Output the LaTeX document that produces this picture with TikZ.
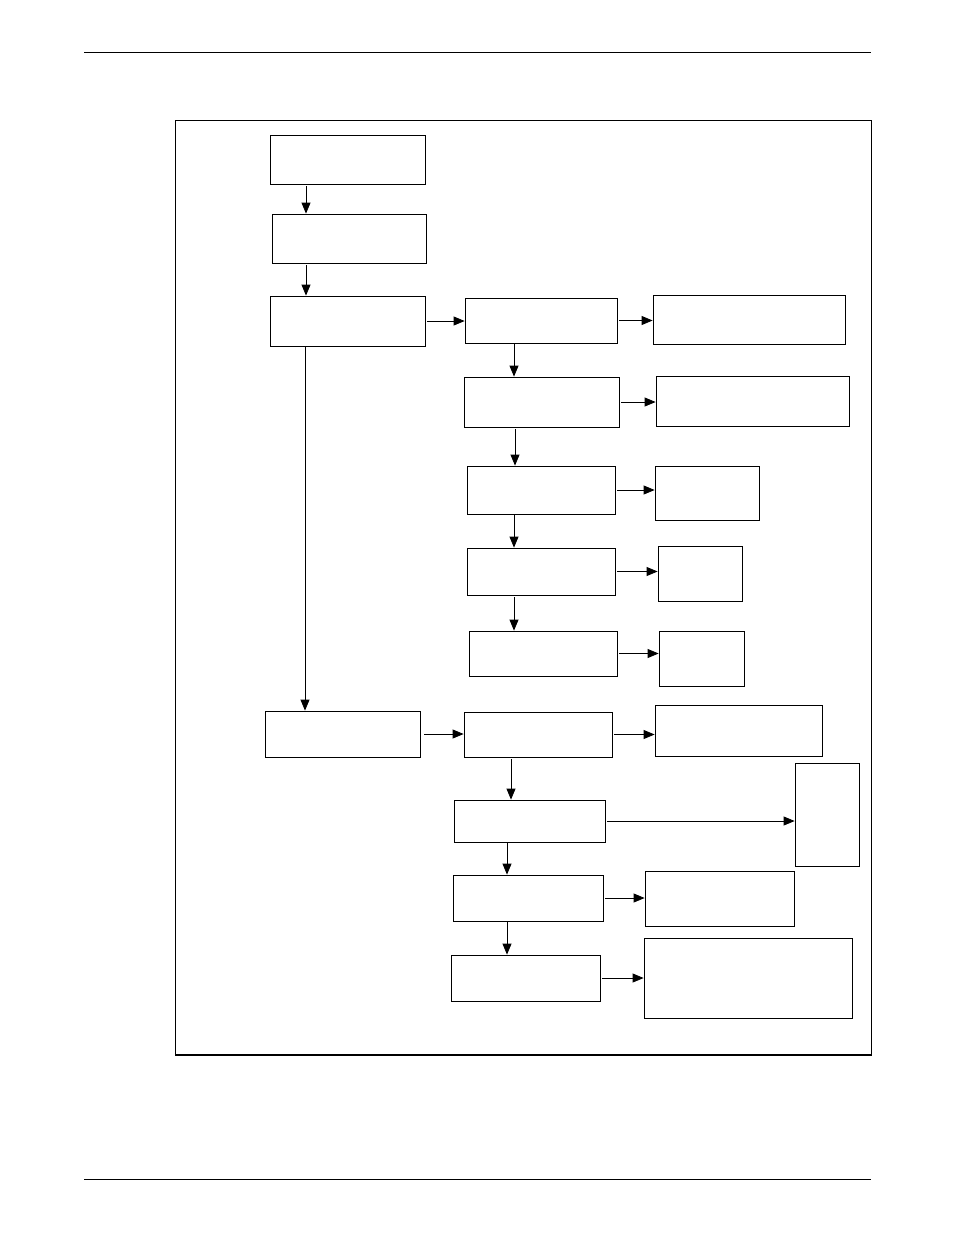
\documentclass[tikz,border=0pt]{standalone}
\usetikzlibrary{arrows.meta}
\tikzset{
  blk/.style={draw, line width=0.8pt, inner sep=0pt},
  arr/.style={line width=0.8pt, -{Triangle[length=11pt,width=9pt]}, shorten <=2pt}
}
% box from corners (x1,y1) to (x2,y2)
\newcommand{\bx}[5]{%
  \node[blk, minimum width={(#4-#2)*1pt}, minimum height={(#5-#3)*1pt}] (#1) at ({(#2+#4)/2},{(#3+#5)/2}) {};}
\begin{document}
\begin{tikzpicture}[x=1pt,y=-1pt]
\useasboundingbox (0,0) rectangle (954,1235);
\draw[line width=0.6pt] (84,52) -- (871,52);
\draw[line width=0.6pt] (84,1179) -- (871,1179);
\draw[line width=0.8pt] (175,120) rectangle (871,1055);
\draw[line width=1.4pt] (175,1055) -- (871,1055);

\bx{start}{270}{135}{425}{184}
\bx{prep}{272}{214}{426}{263}
\bx{split}{270}{296}{425}{346}
\bx{ca}{465}{298}{617}{343}
\bx{ra}{653}{295}{845}{344}
\bx{cb}{464}{377}{619}{427}
\bx{rb}{656}{376}{849}{426}
\bx{cc}{467}{466}{615}{514}
\bx{rc}{655}{466}{759}{520}
\bx{cd}{467}{548}{615}{595}
\bx{rd}{658}{546}{742}{601}
\bx{ce}{469}{631}{617}{676}
\bx{re}{659}{631}{744}{686}
\bx{low}{265}{711}{420}{757}
\bx{da}{464}{712}{612}{757}
\bx{sa}{655}{705}{822}{756}
\bx{db}{454}{800}{605}{842}
\bx{sb}{795}{763}{859}{866}
\bx{dc}{453}{875}{603}{921}
\bx{sc}{645}{871}{794}{926}
\bx{dd}{451}{955}{600}{1001}
\bx{sd}{644}{938}{852}{1018}

% vertical links
\coordinate (p1) at ([xshift=-41.5pt]start.south);
\coordinate (p2) at ([xshift=-43pt]prep.south);
\coordinate (p3) at ([xshift=-42.5pt]split.south);
\coordinate (q1) at ([xshift=-27pt]ca.south);
\coordinate (q2) at ([xshift=-26.5pt]cb.south);
\coordinate (q3) at ([xshift=-27pt]cc.south);
\coordinate (q4) at ([xshift=-27pt]cd.south);
\coordinate (w1) at ([xshift=-27pt]da.south);
\coordinate (w2) at ([xshift=-22.5pt]db.south);
\coordinate (w3) at ([xshift=-21pt]dc.south);
\draw[arr] (p1) -- (p1 |- prep.north);
\draw[arr] (p2) -- (p2 |- split.north);
\draw[arr, shorten <=0pt] (p3) -- (p3 |- low.north);
\draw[arr, shorten <=0pt] (q1) -- (q1 |- cb.north);
\draw[arr] (q2) -- (q2 |- cc.north);
\draw[arr, shorten <=0pt] (q3) -- (q3 |- cd.north);
\draw[arr] (q4) -- (q4 |- ce.north);
\draw[arr] (w1) -- (w1 |- db.north);
\draw[arr, shorten <=0pt] (w2) -- (w2 |- dc.north);
\draw[arr, shorten <=0pt] (w3) -- (w3 |- dd.north);

% horizontal links
\draw[arr] (split.east) -- (split.east -| ca.west);
\draw[arr] (ca.east) -- (ca.east -| ra.west);
\draw[arr] (cb.east) -- (cb.east -| rb.west);
\draw[arr] (cc.east) -- (cc.east -| rc.west);
\draw[arr] (cd.east) -- (cd.east -| rd.west);
\draw[arr] (ce.east) -- (ce.east -| re.west);
\draw[arr, shorten <=4pt] (low.east) -- (low.east -| da.west);
\draw[arr] (da.east) -- (da.east -| sa.west);
\draw[arr] (db.east) -- (db.east -| sb.west);
\draw[arr] (dc.east) -- (dc.east -| sc.west);
\draw[arr] (dd.east) -- (dd.east -| sd.west);
\end{tikzpicture}
\end{document}
